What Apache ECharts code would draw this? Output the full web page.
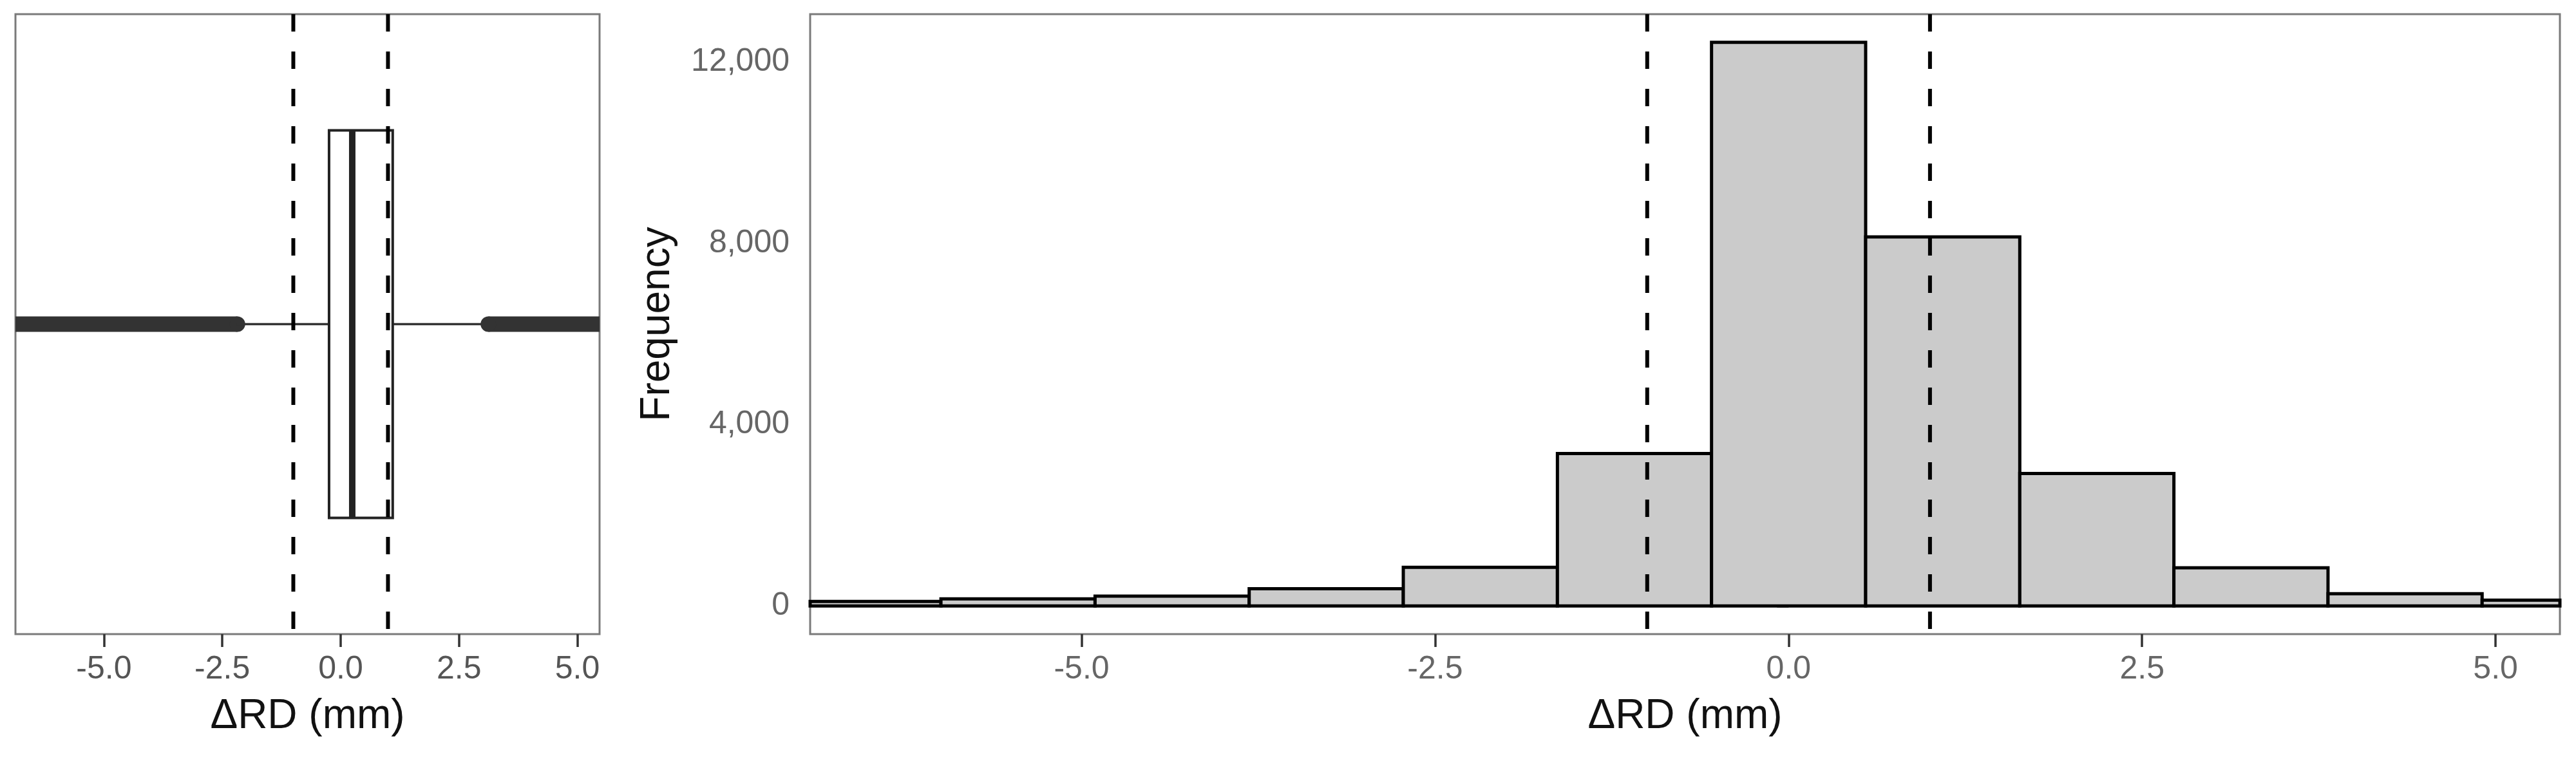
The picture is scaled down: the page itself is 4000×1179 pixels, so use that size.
<!DOCTYPE html>
<html><head><meta charset="utf-8">
<script src="https://cdn.jsdelivr.net/npm/echarts@6/dist/echarts.min.js"></script>
<style>html,body{margin:0;padding:0;background:#fff}#c{width:4000px;height:1179px}</style>
</head><body><div id="c"></div>
<script>
// ---- data ----
const xTicks = [-5, -2.5, 0, 2.5, 5];
const yTicks = [0, 4000, 8000, 12000];
const binCenters = [-6.54, -5.45, -4.36, -3.27, -2.18, -1.09, 0, 1.09, 2.18, 3.27, 4.36, 5.45];
const binWidth = 1.09;
const counts = [100, 155, 215, 380, 852, 3360, 12430, 8140, 2920, 840, 270, 128];
const refLines = [-1, 1];
const boxQuartiles = [-0.245, 0.245, 1.10];   // Q1, median, Q3
const whiskers = [-2.2, 3.0];                 // lower, upper whisker ends
const outlierSpans = [[-7.2, -2.18], [3.12, 5.8]]; // ranges densely covered by outliers
const boxCategory = ['ΔRD'];

const chart = echarts.init(document.getElementById('c'), null, {renderer: 'canvas'});

const FONT = 'Liberation Sans, Arial, sans-serif';
const NARROW = 'Liberation Sans Narrow, Arial Narrow, Liberation Sans, sans-serif';

function vlines(xi, yi) {
  return {
    type: 'custom', xAxisIndex: xi, yAxisIndex: yi, z: 10, silent: true,
    data: refLines.map(v => [v]),
    encode: {x: 0},
    renderItem(params, api) {
      const cs = params.coordSys;
      const x = api.coord([api.value(0), 0])[0];
      return {type: 'line', shape: {x1: x, y1: cs.y, x2: x, y2: cs.y + cs.height},
        style: {stroke: '#000', lineWidth: 6, lineDash: [27, 31]}};
    }
  };
}

function xAxisCommon(gi, min, max, labelFont, labelColor) {
  return {
    gridIndex: gi, type: 'value', min: min, max: max,
    axisLine: {show: false, onZero: false},
    splitLine: {show: false},
    axisTick: {show: true, customValues: xTicks, length: 20, lineStyle: {color: '#333', width: 3.5}},
    axisLabel: {customValues: xTicks, formatter: v => v.toFixed(1), fontSize: 50,
      color: labelColor, margin: 30, fontFamily: labelFont},
    name: 'ΔRD (mm)', nameLocation: 'middle', nameGap: 96,
    nameTextStyle: {fontSize: 64, color: '#111', fontFamily: FONT}
  };
}

const option = {
  animation: false,
  backgroundColor: '#fff',
  grid: [
    {left: 24, right: 4000 - 931, top: 22, bottom: 1179 - 985, show: true,
      borderColor: '#7a7a7a', borderWidth: 3, backgroundColor: 'transparent'},
    {left: 1258, right: 4000 - 3975, top: 22, bottom: 1179 - 985, show: true,
      borderColor: '#7a7a7a', borderWidth: 3, backgroundColor: 'transparent'}
  ],
  xAxis: [
    xAxisCommon(0, -6.87, 5.47, FONT, '#555'),
    xAxisCommon(1, -6.92, 5.455, NARROW, '#666')
  ],
  yAxis: [
    {gridIndex: 0, type: 'category', data: boxCategory, show: false},
    {gridIndex: 1, type: 'value', min: -621, max: 13052,
      axisLine: {show: false}, splitLine: {show: false},
      axisTick: {show: true, customValues: yTicks, length: 18, lineStyle: {color: '#333', width: 3.5}},
      axisLabel: {customValues: yTicks, formatter: v => v.toLocaleString('en-US'), fontSize: 50,
        color: '#666', margin: 32, fontFamily: NARROW},
      name: 'Frequency', nameLocation: 'middle', nameGap: 205, nameRotate: 90,
      nameTextStyle: {fontSize: 64, color: '#111', fontFamily: FONT}}
  ],
  series: [
    // outliers (dense bands)
    {
      type: 'custom', xAxisIndex: 0, yAxisIndex: 0, z: 3, silent: true,
      data: outlierSpans.map(s => [s[0], s[1], 0]),
      encode: {x: [0, 1], y: 2},
      renderItem(params, api) {
        const cs = params.coordSys;
        const cy = api.coord([0, 0])[1];
        const a = api.coord([api.value(0), 0])[0];
        const b = api.coord([api.value(1), 0])[0];
        const lo = cs.x, hi = cs.x + cs.width;
        const ca = Math.min(Math.max(a, lo), hi), cb = Math.min(Math.max(b, lo), hi);
        const children = [{type: 'line', shape: {x1: ca, y1: cy, x2: cb, y2: cy},
          style: {stroke: '#333', lineWidth: 24, lineCap: 'butt'}}];
        [a, b].forEach(x => {
          if (x > lo + 12 && x < hi - 12) {
            children.push({type: 'circle', shape: {cx: x, cy: cy, r: 12}, style: {fill: '#333'}});
          }
        });
        return {type: 'group', children};
      }
    },
    // box
    {
      type: 'custom', xAxisIndex: 0, yAxisIndex: 0, z: 4, silent: true,
      data: [[whiskers[0], boxQuartiles[0], boxQuartiles[1], boxQuartiles[2], whiskers[1], 0]],
      encode: {x: [0, 1, 2, 3, 4], y: 5},
      renderItem(params, api) {
        const cs = params.coordSys;
        const cy = api.coord([0, 0])[1];
        const h = cs.height * 0.625;
        const X = i => api.coord([api.value(i), 0])[0];
        const wl = X(0), q1 = X(1), md = X(2), q3 = X(3), wh = X(4);
        return {type: 'group', children: [
          {type: 'line', shape: {x1: wl, y1: cy, x2: q1, y2: cy}, style: {stroke: '#333', lineWidth: 3.5}},
          {type: 'line', shape: {x1: q3, y1: cy, x2: wh, y2: cy}, style: {stroke: '#333', lineWidth: 3.5}},
          {type: 'rect', shape: {x: q1, y: cy - h / 2, width: q3 - q1, height: h},
            style: {fill: '#fff', stroke: '#222', lineWidth: 4}},
          {type: 'line', shape: {x1: md, y1: cy - h / 2, x2: md, y2: cy + h / 2},
            style: {stroke: '#222', lineWidth: 10}}
        ]};
      }
    },
    vlines(0, 0),
    // histogram
    {
      type: 'custom', xAxisIndex: 1, yAxisIndex: 1, z: 4, silent: true,
      data: binCenters.map((c, i) => [c, counts[i]]),
      encode: {x: 0, y: 1},
      renderItem(params, api) {
        const cs = params.coordSys;
        const c = api.value(0), n = api.value(1);
        const p0 = api.coord([c - binWidth / 2, n]);
        const p1 = api.coord([c + binWidth / 2, 0]);
        const shape = echarts.graphic.clipRectByRect(
          {x: p0[0], y: p0[1], width: p1[0] - p0[0], height: p1[1] - p0[1]},
          {x: cs.x, y: cs.y, width: cs.width, height: cs.height});
        if (!shape) return;
        return {type: 'rect', shape, style: {fill: '#cbcbcb', stroke: '#000', lineWidth: 5}};
      }
    },
    vlines(1, 1)
  ]
};
chart.setOption(option);
</script>
</body></html>
